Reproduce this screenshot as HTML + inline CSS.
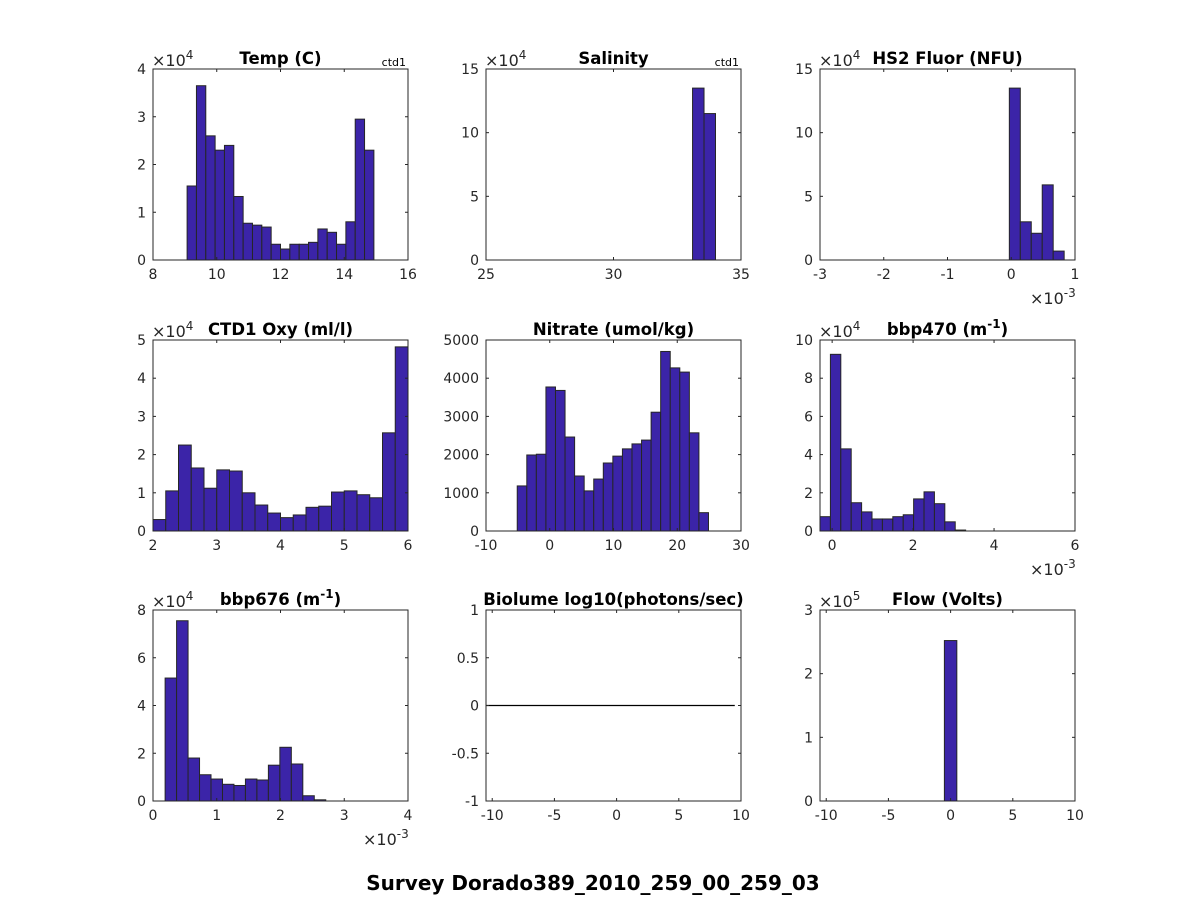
<!DOCTYPE html>
<html><head><meta charset="utf-8"><style>
body{margin:0;background:#fff;}
svg{display:block;font-family:"DejaVu Sans","Liberation Sans",sans-serif;}
</style></head><body>
<svg id="fig" width="1188" height="900" viewBox="0 0 1188 900">
<rect width="1188" height="900" fill="#fff"/>
<text x="593" y="890" text-anchor="middle" font-size="20" font-weight="bold" fill="#000">Survey Dorado389_2010_259_00_259_03</text>
</svg>
<script>
// ---- data arrays ----
const tempCounts=[1.55,3.65,2.6,2.3,2.4,1.33,0.77,0.73,0.69,0.33,0.23,0.33,0.33,0.37,0.65,0.58,0.33,0.8,2.95,2.3];
const salCounts=[13.5,11.5];
const fluorCounts=[13.5,3.0,2.1,5.9,0.7];
const oxyCounts=[0.3,1.05,2.25,1.65,1.12,1.6,1.57,1.0,0.68,0.47,0.35,0.42,0.62,0.65,1.02,1.05,0.95,0.87,2.57,4.82];
const nitrateCounts=[1180,1990,2010,3770,3680,2460,1440,1050,1360,1780,1960,2150,2280,2380,3110,4700,4270,4160,2570,480];
const bbp470Counts=[0.75,9.25,4.3,1.48,1.0,0.63,0.63,0.75,0.85,1.68,2.05,1.43,0.48,0.05];
const bbp676Counts=[5.15,7.55,1.8,1.1,0.92,0.7,0.65,0.92,0.88,1.5,2.25,1.55,0.22,0.05];
const biolumeLine=[0,0];
const flowCounts=[2.52];

const panels=[
 {name:'temp',title:'Temp (C)',x:153,y:69,xlim:[8,16],ylim:[0,4],xt:[8,10,12,14,16],yt:[0,1,2,3,4],counts:tempCounts,start:9.07,w:0.293,yexp:'4',ctd:true},
 {name:'salinity',title:'Salinity',x:486,y:69,xlim:[25,35],ylim:[0,15],xt:[25,30,35],yt:[0,5,10,15],counts:salCounts,start:33.1,w:0.45,yexp:'4',ctd:true},
 {name:'hs2-fluor',title:'HS2 Fluor (NFU)',x:820,y:69,xlim:[-3,1],ylim:[0,15],xt:[-3,-2,-1,0,1],yt:[0,5,10,15],counts:fluorCounts,start:-0.03,w:0.172,yexp:'4',xexp:'-3'},
 {name:'ctd1-oxy',title:'CTD1 Oxy (ml/l)',x:153,y:340,xlim:[2,6],ylim:[0,5],xt:[2,3,4,5,6],yt:[0,1,2,3,4,5],counts:oxyCounts,start:2,w:0.2,yexp:'4'},
 {name:'nitrate',title:'Nitrate (umol/kg)',x:486,y:340,xlim:[-10,30],ylim:[0,5000],xt:[-10,0,10,20,30],yt:[0,1000,2000,3000,4000,5000],counts:nitrateCounts,start:-5.1,w:1.5},
 {name:'bbp470',title:'bbp470 (m',sup:'-1',x:820,y:340,xlim:[-0.3,6],ylim:[0,10],xt:[0,2,4,6],yt:[0,2,4,6,8,10],counts:bbp470Counts,start:-0.3,w:0.257,yexp:'4',xexp:'-3'},
 {name:'bbp676',title:'bbp676 (m',sup:'-1',x:153,y:610,xlim:[0,4],ylim:[0,8],xt:[0,1,2,3,4],yt:[0,2,4,6,8],counts:bbp676Counts,start:0.19,w:0.18,yexp:'4',xexp:'-3'},
 {name:'biolume',title:'Biolume log10(photons/sec)',x:486,y:610,xlim:[-10.5,10],ylim:[-1,1],xt:[-10,-5,0,5,10],yt:[-1,-0.5,0,0.5,1],line:biolumeLine},
 {name:'flow',title:'Flow (Volts)',x:820,y:610,xlim:[-10.5,10],ylim:[0,3],xt:[-10,-5,0,5,10],yt:[0,1,2,3],counts:flowCounts,start:-0.5,w:1,yexp:'5'}
];
const W=255,H=191,NS='http://www.w3.org/2000/svg';
const fig=document.getElementById('fig');
function mk(t,a,p){const e=document.createElementNS(NS,t);for(const k in a)e.setAttribute(k,a[k]);(p||fig).appendChild(e);return e;}
panels.forEach(P=>{
 const g=mk('g',{});
 
 
 const sx=v=>P.x+(v-P.xlim[0])/(P.xlim[1]-P.xlim[0])*W;
 const sy=v=>P.y+H-(v-P.ylim[0])/(P.ylim[1]-P.ylim[0])*H;
 mk('rect',{x:P.x,y:P.y,width:W,height:H,fill:'#fff'},g);
 if(P.counts){P.counts.forEach((c,i)=>{
   const x0=sx(P.start+i*P.w),x1=sx(P.start+(i+1)*P.w);
   const r=mk('rect',{x:x0,y:sy(c),width:x1-x0,height:sy(0)-sy(c),fill:'#3b24a8',stroke:'#262626','stroke-width':1},g);
   
   
 });}
 if(P.line){const l=mk('line',{x1:sx(-10.5),x2:sx(9.5),y1:sy(P.line[0]),y2:sy(P.line[1]),stroke:'#000','stroke-width':1.2},g);
   
   }
 mk('rect',{x:P.x,y:P.y,width:W,height:H,fill:'none',stroke:'#262626','stroke-width':1},g);
 P.xt.forEach(v=>{const x=sx(v);
   mk('line',{x1:x,x2:x,y1:P.y+H,y2:P.y+H-3,stroke:'#262626'},g);
   mk('line',{x1:x,x2:x,y1:P.y,y2:P.y+3,stroke:'#262626'},g);
   const t=mk('text',{x:x,y:P.y+H+19,'text-anchor':'middle','font-size':14,fill:'#262626'},g);t.textContent=v;
   
   });
 P.yt.forEach(v=>{const y=sy(v);
   mk('line',{x1:P.x,x2:P.x+3,y1:y,y2:y,stroke:'#262626'},g);
   mk('line',{x1:P.x+W,x2:P.x+W-3,y1:y,y2:y,stroke:'#262626'},g);
   const t=mk('text',{x:P.x-7,y:y+5,'text-anchor':'end','font-size':14,fill:'#262626'},g);t.textContent=v;
   
   });
 const tt=mk('text',{x:P.x+W/2,y:P.y-5,'text-anchor':'middle','font-size':16.5,'font-weight':'bold',fill:'#000'},g);
 
 
 tt.textContent=P.title;
 if(P.sup){const s=mk('tspan',{dy:-7,'font-size':12},tt);s.textContent=P.sup;const c=mk('tspan',{dy:7},tt);c.textContent=')';}
 if(P.yexp){const e=mk('text',{x:P.x-1,y:P.y-3,'font-size':16,fill:'#262626'},g);e.textContent='×10';
   const s=mk('tspan',{dy:-7,'font-size':12},e);s.textContent=P.yexp;
   
   }
 if(P.xexp){const e=mk('text',{x:P.x+W-45,y:P.y+H+44,'font-size':16,fill:'#262626'},g);e.textContent='×10';
   const s=mk('tspan',{dy:-7,'font-size':12},e);s.textContent=P.xexp;
   
   }
 if(P.ctd){const c=mk('text',{x:P.x+W-2,y:P.y-3,'text-anchor':'end','font-size':11,fill:'#000'},g);c.textContent='ctd1';
   
   }
});
</script>
</body></html>
